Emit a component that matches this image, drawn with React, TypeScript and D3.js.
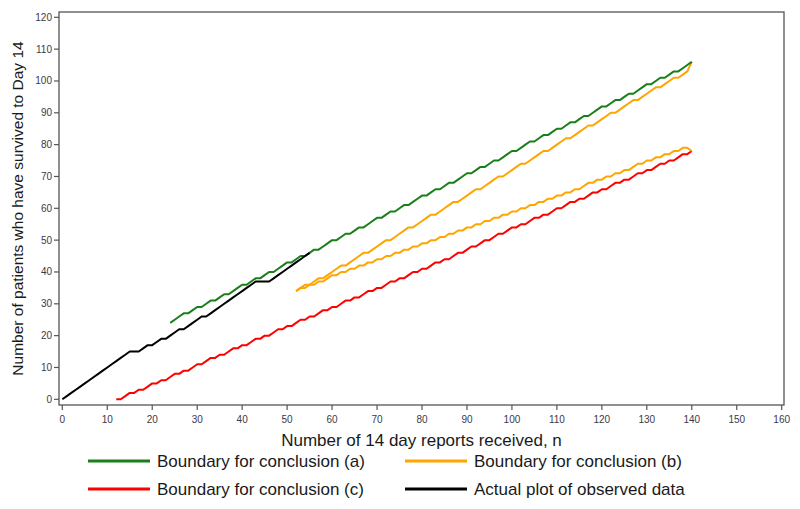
import React from "react";
import * as d3 from "d3";

// ---------- data ----------
const xTicks = [0, 10, 20, 30, 40, 50, 60, 70, 80, 90, 100, 110, 120, 130, 140, 150, 160];
const yTicks = [0, 10, 20, 30, 40, 50, 60, 70, 80, 90, 100, 110, 120];

const greenStart = 24;
const greenValues = [
  24, 25, 26, 27, 27, 28, 29,
  29, 30, 31, 31, 32, 33, 33, 34, 35, 36,
  36, 37, 38, 38, 39, 40, 40, 41, 42, 43,
  43, 44, 45, 45, 46, 47, 47, 48, 49, 50,
  50, 51, 52, 52, 53, 54, 54, 55, 56, 57,
  57, 58, 59, 59, 60, 61, 61, 62, 63, 64,
  64, 65, 66, 66, 67, 68, 68, 69, 70, 71,
  71, 72, 73, 73, 74, 75, 75, 76, 77, 78,
  78, 79, 80, 81, 81, 82, 83, 83, 84, 85,
  85, 86, 87, 87, 88, 89, 89, 90, 91, 92,
  92, 93, 94, 94, 95, 96, 96, 97, 98, 99,
  99, 100, 101, 101, 102, 103, 103, 104, 105, 106,
];

const orangeStart = 52;
const orangeUpperValues = [
  34, 35, 36, 36, 37, 38, 38, 39, 40,
  41, 42, 42, 43, 44, 45, 46, 46, 47, 48,
  49, 50, 50, 51, 52, 53, 54, 54, 55, 56,
  57, 58, 58, 59, 60, 61, 62, 62, 63, 64,
  65, 66, 66, 67, 68, 69, 70, 70, 71, 72,
  73, 74, 74, 75, 76, 77, 78, 78, 79, 80,
  81, 82, 82, 83, 84, 85, 86, 86, 87, 88,
  89, 90, 90, 91, 92, 93, 94, 94, 95, 96,
  97, 98, 98, 99, 100, 101, 101, 102, 103, 106,
];
const orangeLowerValues = [
  34, 35, 35, 36, 36, 37, 37, 38, 39,
  39, 40, 40, 41, 41, 42, 42, 43, 43, 44,
  44, 45, 45, 46, 46, 47, 47, 48, 48, 49,
  49, 50, 50, 51, 51, 52, 52, 53, 53, 54,
  54, 55, 55, 56, 56, 57, 57, 58, 58, 59,
  59, 60, 60, 61, 61, 62, 62, 63, 63, 64,
  64, 65, 65, 66, 66, 67, 68, 68, 69, 69,
  70, 70, 71, 71, 72, 72, 73, 74, 74, 75,
  75, 76, 76, 77, 77, 78, 78, 79, 79, 78,
];

const redStart = 12;
const redValues = [
  0, 0, 1, 2, 2, 3, 3, 4, 5,
  5, 6, 6, 7, 8, 8, 9, 9, 10, 11,
  11, 12, 13, 13, 14, 14, 15, 16, 16, 17,
  17, 18, 19, 19, 20, 20, 21, 22, 22, 23,
  23, 24, 25, 25, 26, 26, 27, 28, 28, 29,
  29, 30, 31, 31, 32, 32, 33, 34, 34, 35,
  35, 36, 37, 37, 38, 38, 39, 40, 40, 41,
  41, 42, 43, 43, 44, 44, 45, 46, 46, 47,
  48, 48, 49, 50, 50, 51, 52, 52, 53, 54,
  54, 55, 55, 56, 57, 57, 58, 58, 59, 60,
  60, 61, 62, 62, 63, 63, 64, 65, 65, 66,
  66, 67, 68, 68, 69, 69, 70, 71, 71, 72,
  72, 73, 74, 74, 75, 75, 76, 77, 77, 78,
];

const observedStart = 0;
const observedValues = [
  0, 1, 2, 3, 4, 5, 6, 7, 8, 9, 10, 11, 12, 13, 14, 15,
  15, 15, 16, 17, 17, 18, 19, 19, 20, 21, 22, 22, 23, 24, 25, 26, 26,
  27, 28, 29, 30, 31, 32, 33, 34, 35, 36, 37,
  37, 37, 37,
  38, 39, 40, 41, 42, 43, 44, 45, 46,
];

const legendItems = [
  { label: "Boundary for conclusion (a)", color: "#1a7f1a" },
  { label: "Boundary for conclusion (b)", color: "#ffa500" },
  { label: "Boundary for conclusion (c)", color: "#ff0000" },
  { label: "Actual plot of observed data", color: "#000000" },
];

const xTitle = "Number of 14 day reports received, n";
const yTitle = "Number of patients who have survived to Day 14";

// ---------- layout ----------
const W = 800;
const H = 509;
const frame = { left: 59, right: 784, top: 12, bottom: 405 };
const FONT = "'Liberation Sans', Arial, sans-serif";

const x = d3.scaleLinear().domain([0, 160]).range([62.3, 781.7]);
const y = d3.scaleLinear().domain([0, 120]).range([399.3, 17.3]);

const toPts = (start: number, vals: number[]) => vals.map((v, i) => [start + i, v] as [number, number]);
const line = d3
  .line<[number, number]>()
  .x((d) => x(d[0]))
  .y((d) => y(d[1]));

const series = [
  { pts: toPts(redStart, redValues), color: legendItems[2].color },
  { pts: toPts(orangeStart, orangeLowerValues), color: legendItems[1].color },
  { pts: toPts(orangeStart, orangeUpperValues), color: legendItems[1].color },
  { pts: toPts(greenStart, greenValues), color: legendItems[0].color },
  { pts: toPts(observedStart, observedValues), color: legendItems[3].color },
];

export default function App() {
  const axisColor = "#555555";
  const tickColor = "#3a3a4a";
  return (
    <svg
      width={W}
      height={H}
      style={{ position: "absolute", left: 0, top: 0, background: "#fff" }}
      fontFamily={FONT}
    >
      <rect x={0} y={0} width={W} height={H} fill="#fff" />
      {/* frame */}
      <rect
        x={frame.left}
        y={frame.top}
        width={frame.right - frame.left}
        height={frame.bottom - frame.top}
        fill="none"
        stroke={axisColor}
        strokeWidth={1.3}
      />
      {/* x ticks */}
      {xTicks.map((t) => (
        <g key={"x" + t}>
          <line x1={x(t)} x2={x(t)} y1={frame.bottom} y2={frame.bottom + 5} stroke={axisColor} strokeWidth={1.2} />
          <text x={x(t)} y={frame.bottom + 18} textAnchor="middle" fontSize={10} fill={tickColor}>
            {t}
          </text>
        </g>
      ))}
      {/* y ticks */}
      {yTicks.map((t) => (
        <g key={"y" + t}>
          <line x1={frame.left - 5} x2={frame.left} y1={y(t)} y2={y(t)} stroke={axisColor} strokeWidth={1.2} />
          <text x={frame.left - 7} y={y(t)} dy="0.35em" textAnchor="end" fontSize={10} fill={tickColor}>
            {t}
          </text>
        </g>
      ))}
      {/* series */}
      {series.map((s, i) => (
        <path key={i} d={line(s.pts) || ""} fill="none" stroke={s.color} strokeWidth={2} strokeLinejoin="round" />
      ))}
      {/* axis titles */}
      <text x={(frame.left + frame.right) / 2} y={446} textAnchor="middle" fontSize={17} fill="#1a1a1a">
        {xTitle}
      </text>
      <text
        transform={`translate(23, ${(frame.top + frame.bottom) / 2}) rotate(-90)`}
        textAnchor="middle"
        fontSize={15.5}
        fill="#1a1a1a"
      >
        {yTitle}
      </text>
      {/* legend */}
      {legendItems.map((item, i) => {
        const col = i % 2;
        const row = Math.floor(i / 2);
        const lx = col === 0 ? 88 : 405;
        const ly = row === 0 ? 461 : 489;
        return (
          <g key={item.label}>
            <line x1={lx} x2={lx + 62} y1={ly} y2={ly} stroke={item.color} strokeWidth={3} />
            <text x={lx + 69} y={ly} dy="0.35em" fontSize={17} fill="#1a1a1a">
              {item.label}
            </text>
          </g>
        );
      })}
    </svg>
  );
}
